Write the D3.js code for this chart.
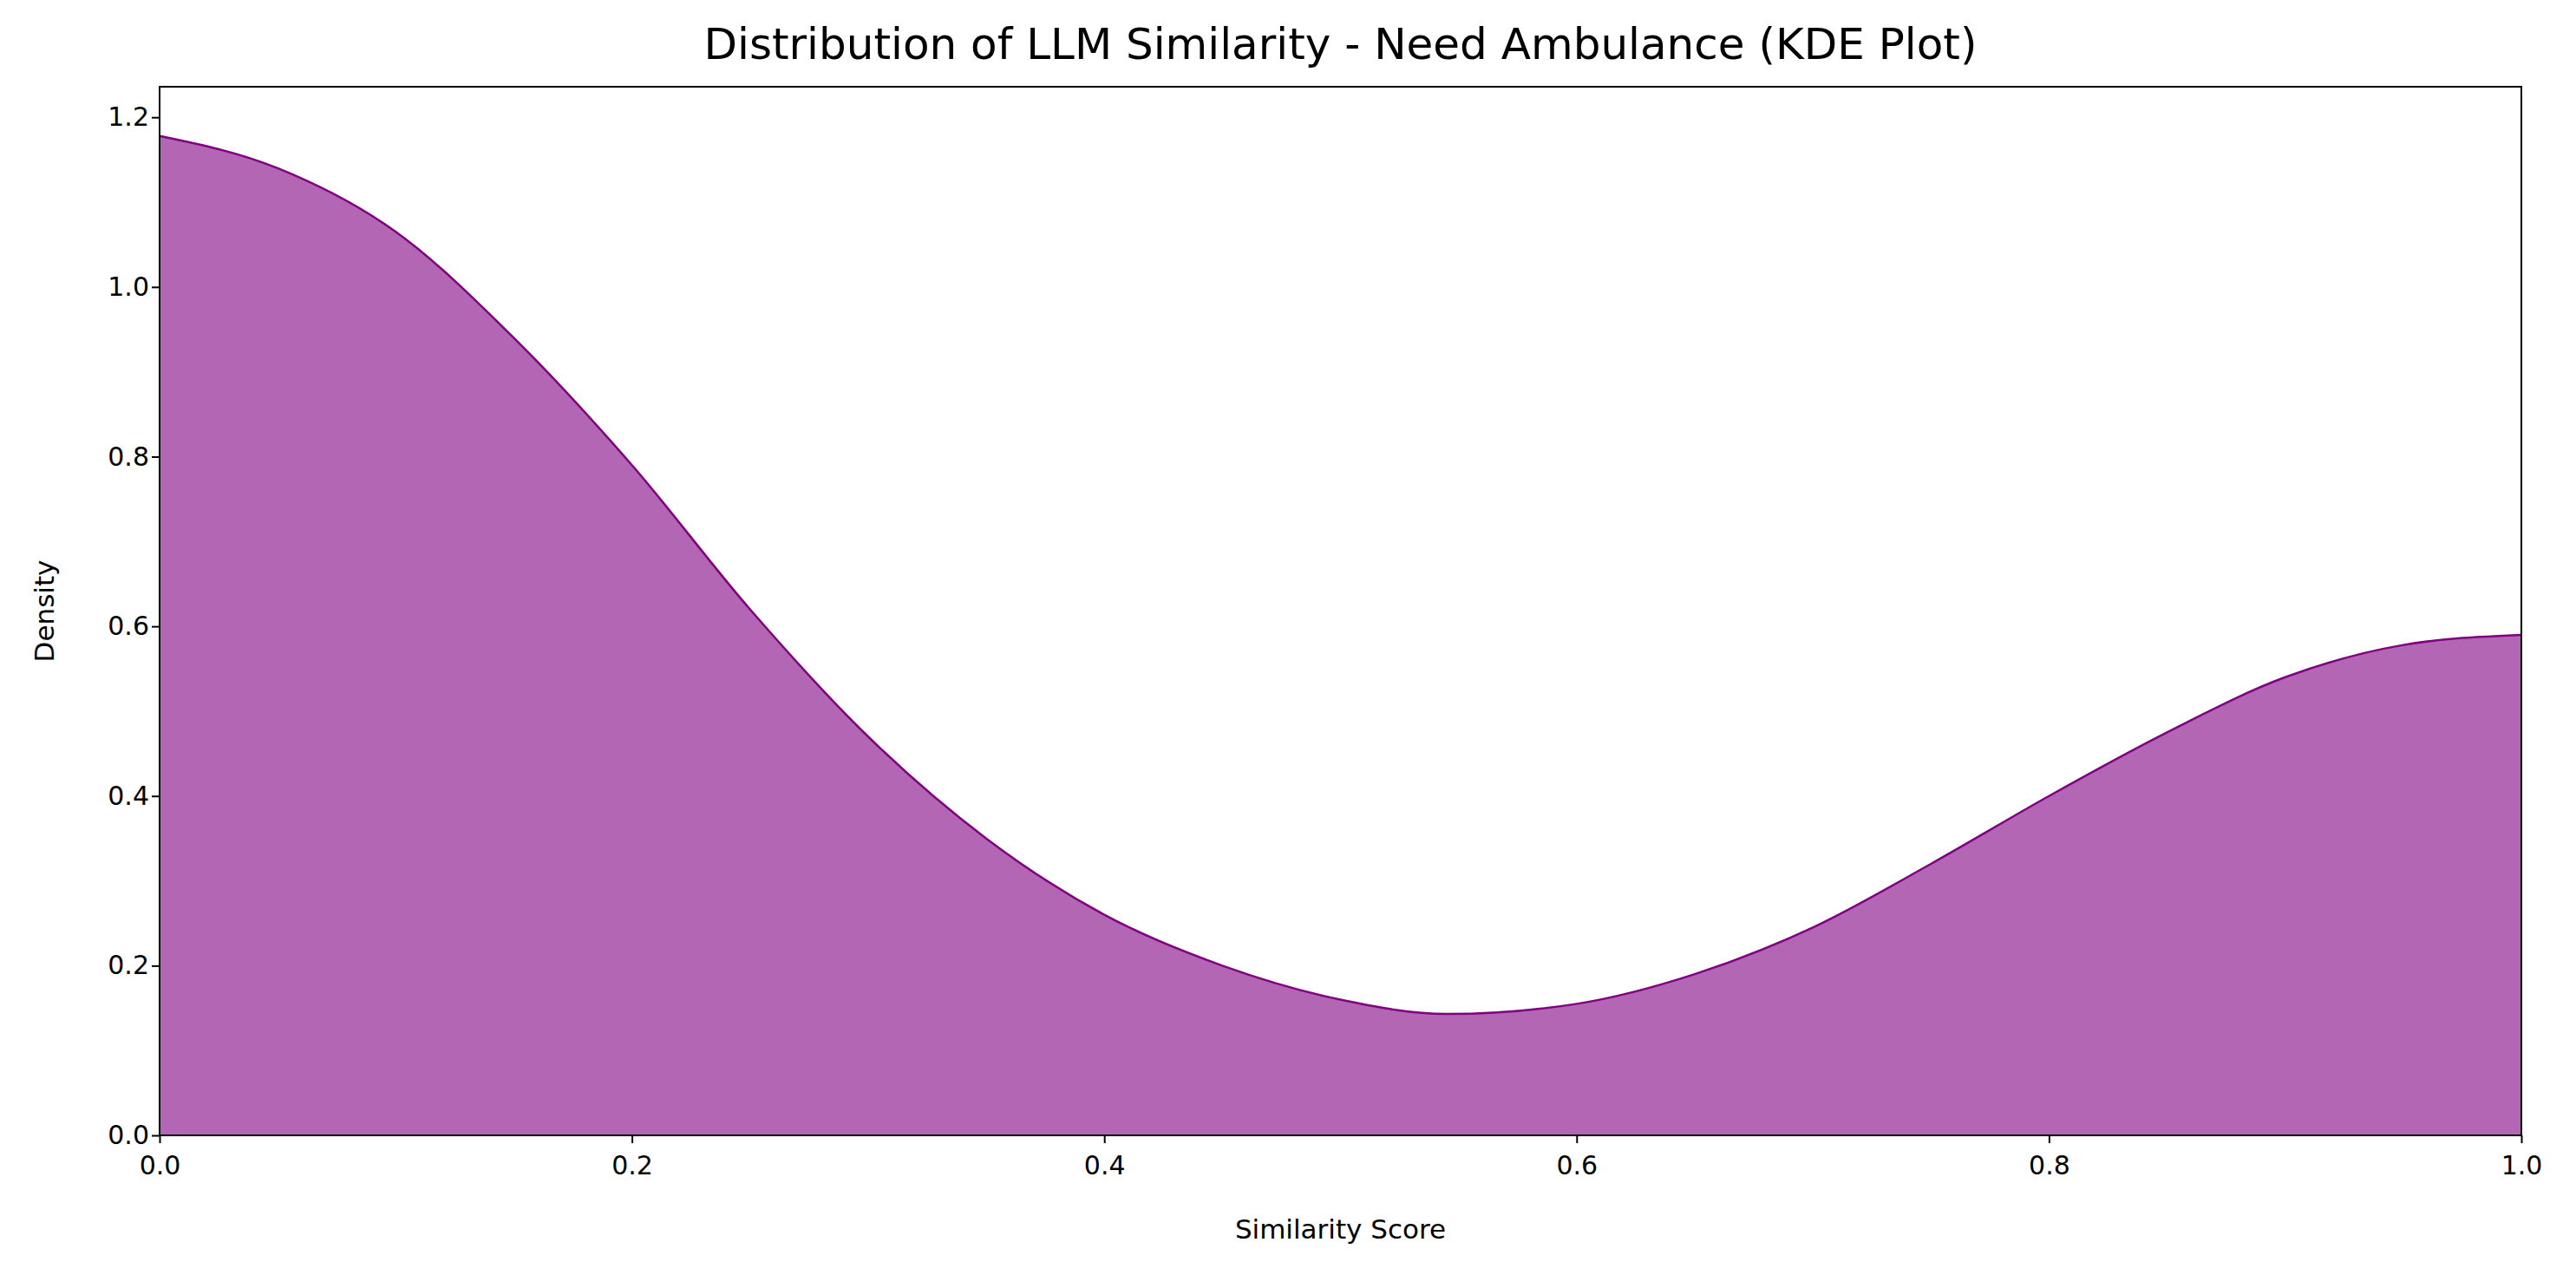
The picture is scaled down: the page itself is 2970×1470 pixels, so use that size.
<!DOCTYPE html>
<html><head><meta charset="utf-8">
<script src="https://cdn.jsdelivr.net/npm/d3@7"></script>
<style>body{margin:0;background:#fff}text{font-family:"DejaVu Sans",sans-serif}</style>
</head><body><svg id="c" width="2970" height="1470"></svg>
<script>
const xs=[0,0.05,0.1,0.15,0.2,0.25,0.3,0.35,0.4,0.45,0.5,0.545,0.6,0.65,0.7,0.75,0.8,0.85,0.9,0.95,1.0];
const ys=[1.178,1.14,1.065,0.94,0.79,0.62,0.47,0.35,0.26,0.2,0.16,0.143,0.155,0.19,0.245,0.32,0.40,0.475,0.54,0.578,0.59];
const xTicks=[0,0.2,0.4,0.6,0.8,1.0], yTicks=[0,0.2,0.4,0.6,0.8,1.0,1.2];
const svg=d3.select("#c");
const L=184,R=2907,T=100,B=1309;
const x=d3.scaleLinear().domain([0,1]).range([L,R]);
const y=d3.scaleLinear().domain([0,1.236]).range([B,T]);
const data=xs.map((v,i)=>[v,ys[i]]);
svg.append("path").datum(data).attr("fill","purple").attr("fill-opacity",0.6)
 .attr("d",d3.area().x(d=>x(d[0])).y0(B).y1(d=>y(d[1])).curve(d3.curveMonotoneX));
svg.append("path").datum(data).attr("fill","none").attr("stroke","purple").attr("stroke-width",2.5)
 .attr("d",d3.line().x(d=>x(d[0])).y(d=>y(d[1])).curve(d3.curveMonotoneX));
svg.append("rect").attr("x",L).attr("y",T).attr("width",R-L).attr("height",B-T).attr("fill","none").attr("stroke","#000").attr("stroke-width",2);
const xa=svg.append("g").attr("transform",`translate(0,${B})`).call(d3.axisBottom(x).tickValues(xTicks).tickFormat(d3.format(".1f")).tickSize(9).tickSizeOuter(0));
const ya=svg.append("g").attr("transform",`translate(${L},0)`).call(d3.axisLeft(y).tickValues(yTicks).tickFormat(d3.format(".1f")).tickSize(9).tickSizeOuter(0));
[xa,ya].forEach(a=>{a.select(".domain").remove();a.selectAll("line").attr("stroke-width",2);a.selectAll("text").attr("font-size",30).attr("font-family","DejaVu Sans");});
xa.selectAll("text").attr("dy","1.1em");
svg.append("text").attr("x",(L+R)/2).attr("y",1428).attr("text-anchor","middle").attr("font-size",31).text("Similarity Score");
svg.append("text").attr("transform",`translate(62,${(T+B)/2}) rotate(-90)`).attr("text-anchor","middle").attr("font-size",31).text("Density");
svg.append("text").attr("x",(L+R)/2).attr("y",68).attr("text-anchor","middle").attr("font-size",50).text("Distribution of LLM Similarity - Need Ambulance (KDE Plot)");
</script></body></html>
